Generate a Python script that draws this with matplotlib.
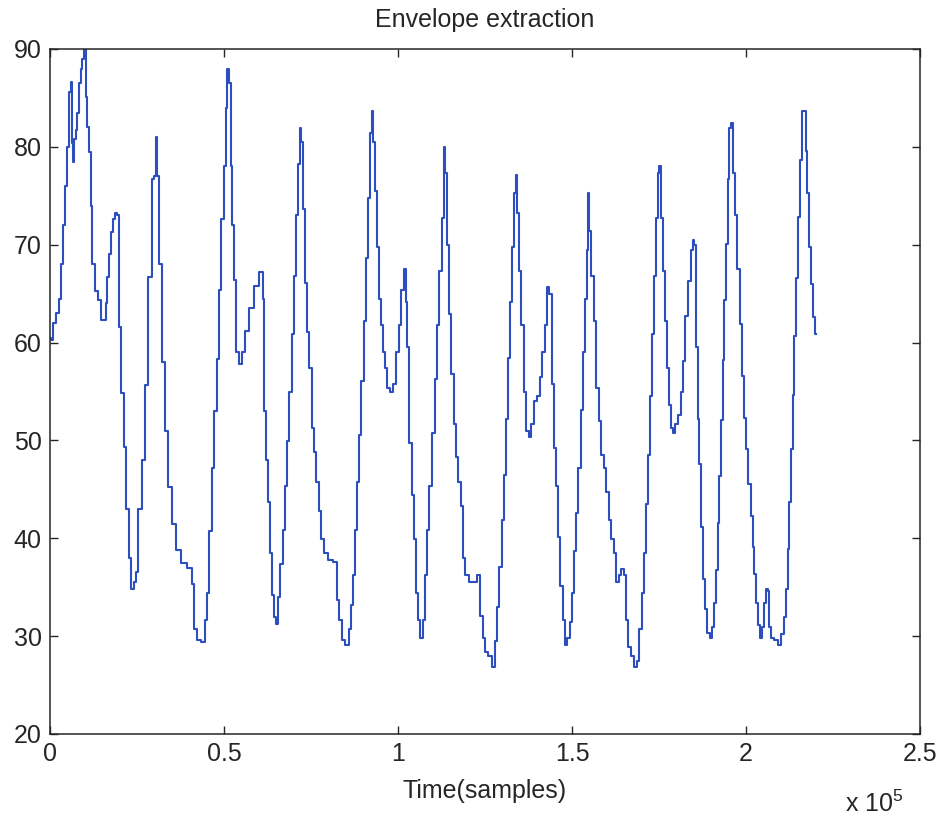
import numpy as np
import matplotlib
matplotlib.use('Agg')
import matplotlib.pyplot as plt
from matplotlib.ticker import FuncFormatter

# Envelope (time in thousands of samples)
time_k = [
    0.00, 0.57, 1.44, 2.30, 2.87, 3.45, 4.02, 4.80, 5.26, 5.75, 6.24, 6.41,
    6.90, 7.18, 7.67, 8.13, 8.62, 9.11, 9.57, 10.06, 10.55, 11.01, 11.49,
    11.98, 12.44, 13.42, 14.37, 14.86, 15.80, 16.29, 16.75, 17.24, 17.73,
    18.39, 18.97, 19.63, 20.12, 20.89, 21.55, 22.21, 22.99, 23.76, 24.28,
    24.91, 25.86, 26.81, 27.79, 28.74, 29.68, 30.17, 30.66, 31.12, 31.61,
    32.56, 33.53, 34.48, 35.43, 36.87, 38.31, 40.72, 41.18, 41.67, 42.62,
    44.05, 45.03, 45.49, 46.18, 46.93, 47.62, 48.36, 48.85, 49.63, 50.29,
    50.78, 51.24, 51.72, 52.21, 52.67, 53.16, 53.82, 54.60, 55.55, 56.52,
    57.96, 59.40, 60.83, 61.50, 61.78, 62.44, 63.02, 63.71, 64.17, 64.66,
    65.14, 65.89, 66.58, 67.24, 67.82, 68.48, 69.17, 69.74, 70.40, 70.89,
    71.55, 72.04, 72.41, 72.79, 73.56, 74.23, 74.91, 75.49, 76.15, 76.81,
    77.59, 78.36, 79.31, 80.46, 82.18, 82.56, 83.33, 84.28, 85.43, 86.21,
    86.70, 87.36, 87.93, 88.59, 89.08, 89.86, 90.52, 91.18, 91.75, 92.24,
    92.73, 93.10, 93.68, 94.34, 94.83, 95.32, 95.98, 96.55, 97.21, 98.19,
    99.14, 99.80, 100.58, 101.35, 102.01, 102.50, 102.96, 103.65, 104.22,
    104.89, 105.55, 106.12, 106.81, 107.47, 108.05, 108.71, 109.40, 110.15,
    110.92, 111.58, 112.27, 112.85, 113.31, 113.79, 114.46, 114.94, 115.72,
    116.38, 117.04, 117.62, 118.31, 118.97, 119.74, 120.89, 122.13, 123.36,
    124.05, 124.71, 125.49, 126.44, 127.39, 128.25, 128.82, 129.51, 130.09,
    130.75, 131.41, 131.98, 132.67, 133.13, 133.62, 134.11, 134.57, 135.06,
    135.84, 136.50, 137.16, 137.93, 138.71, 139.37, 140.32, 141.01, 141.75,
    142.53, 143.19, 143.88, 144.46, 145.12, 145.78, 146.35, 147.04, 147.70,
    148.28, 148.94, 149.63, 150.20, 150.86, 151.53, 152.10, 152.79, 153.45,
    154.03, 154.40, 154.69, 155.17, 155.84, 156.61, 157.27, 158.05, 158.82,
    159.48, 160.15, 160.92, 161.70, 162.36, 163.02, 163.80, 164.57, 165.23,
    165.72, 166.47, 167.44, 168.39, 169.05, 169.74, 170.32, 170.98, 171.64,
    172.21, 172.90, 173.36, 173.85, 174.34, 174.80, 175.29, 175.78, 176.24,
    177.01, 177.68, 178.16, 178.65, 179.31, 180.09, 180.84, 181.53, 182.19,
    182.96, 183.71, 184.40, 184.86, 185.35, 185.84, 186.30, 186.78, 187.27,
    187.73, 188.51, 189.17, 189.86, 190.43, 191.09, 191.58, 192.04, 192.53,
    193.02, 193.48, 193.97, 194.46, 194.92, 195.41, 195.89, 196.35, 197.13,
    197.79, 198.48, 199.06, 199.72, 200.20, 200.95, 201.64, 202.10, 202.59,
    203.08, 203.54, 204.22, 204.97, 205.46, 205.95, 206.41, 206.90, 207.68,
    208.62, 209.77, 210.55, 211.21, 211.70, 212.16, 212.65, 213.13, 213.60,
    214.08, 214.57, 215.15, 215.72, 216.30, 216.96, 217.24, 217.91, 218.39,
    218.97, 219.54, 220.03,
]
envelope = [
    60.5, 60.3, 62.0, 63.0, 64.5, 68.0, 72.0, 76.0, 80.0, 85.6, 86.6, 80.4,
    78.5, 80.8, 81.7, 83.5, 86.5, 88.0, 89.0, 90.0, 85.1, 82.0, 79.5,
    74.0, 68.0, 65.3, 64.4, 62.3, 62.3, 64.0, 66.7, 69.0, 71.3,
    72.6, 73.2, 73.0, 61.6, 54.8, 49.3, 43.0, 38.0, 34.8, 35.5,
    36.6, 43.0, 48.0, 55.7, 66.7, 76.7, 77.0, 81.0, 77.0, 68.0,
    58.0, 51.0, 45.2, 41.5, 38.8, 37.5, 37.0, 35.3, 30.7, 29.6,
    29.4, 31.6, 34.4, 40.7, 47.2, 53.0, 58.3, 65.4, 72.6, 78.0,
    84.0, 88.0, 86.5, 78.0, 72.0, 66.4, 59.0, 57.8, 59.0, 61.2,
    63.5, 65.8, 67.2, 64.5, 53.0, 48.0, 43.7, 38.5, 34.2, 32.0,
    31.2, 34.0, 37.4, 40.8, 45.3, 49.9, 54.9, 60.9, 66.8, 73.0,
    78.2, 81.9, 80.5, 73.6, 66.1, 61.1, 57.4, 51.3, 48.8, 45.8,
    42.8, 39.9, 38.5, 37.8, 37.6, 33.7, 31.6, 29.6, 29.1, 30.7,
    33.2, 36.2, 40.8, 45.8, 50.6, 56.1, 62.2, 68.6, 74.8, 81.4,
    83.7, 80.5, 75.5, 69.8, 64.5, 61.8, 59.0, 57.4, 55.4, 54.9,
    55.8, 59.0, 61.8, 65.4, 67.5, 64.1, 59.5, 49.7, 44.4,
    39.9, 34.4, 31.6, 29.8, 31.6, 36.2, 40.8, 45.3, 50.8,
    56.3, 61.8, 67.3, 72.7, 80.0, 77.3, 70.0, 62.9, 56.8,
    51.7, 48.3, 45.8, 43.3, 38.0, 36.2, 35.5, 35.5, 36.2,
    32.1, 29.8, 28.4, 28.0, 26.8, 29.5, 33.0, 37.1, 41.9,
    46.5, 52.2, 58.4, 64.1, 69.8, 75.3, 77.1, 73.2, 67.3,
    61.8, 54.9, 51.0, 50.4, 51.7, 54.0, 54.5, 56.5, 59.0,
    61.8, 65.7, 65.0, 55.8, 49.2, 45.3, 40.1, 35.1, 31.6,
    29.1, 29.8, 31.4, 34.4, 38.7, 42.6, 47.2, 53.1, 59.0,
    64.5, 69.5, 75.3, 71.4, 66.8, 62.2, 55.4, 52.0, 48.5,
    47.2, 44.7, 41.9, 39.9, 38.5, 35.5, 36.2, 36.9, 36.2,
    31.6, 28.9, 28.0, 26.8, 27.5, 30.7, 34.4, 38.5, 43.5,
    48.5, 54.5, 60.9, 66.8, 72.7, 77.3, 78.0, 72.7, 67.3,
    62.2, 57.4, 53.6, 51.3, 50.8, 51.7, 52.6, 54.9, 58.1,
    62.7, 66.3, 69.5, 70.5, 70.0, 59.5, 52.2, 47.6, 41.2,
    35.8, 32.8, 30.3, 29.8, 30.9, 33.4, 36.8, 41.6, 46.4,
    52.1, 58.2, 64.4, 70.1, 76.7, 81.9, 82.4, 77.3, 73.0,
    67.5, 61.9, 56.6, 52.3, 49.1, 45.5, 42.3, 39.1, 36.4,
    33.4, 31.1, 29.8, 30.9, 33.4, 34.8, 34.6, 30.9, 29.8,
    29.6, 29.1, 30.2, 32.0, 34.8, 38.9, 43.7, 49.1, 54.6,
    60.7, 66.6, 72.8, 78.7, 83.7, 83.7, 79.6, 75.3, 69.8,
    66.0, 62.6, 60.9,
]

x_ticks = [0, 0.5, 1, 1.5, 2, 2.5]
y_ticks = [20, 30, 40, 50, 60, 70, 80, 90]

plt.rcParams['font.family'] = ['Liberation Sans', 'DejaVu Sans']
plt.rcParams['mathtext.fontset'] = 'custom'
plt.rcParams['mathtext.rm'] = 'Liberation Sans'
plt.rcParams['font.size'] = 18

samples = np.array(time_k) * 1000

fig = plt.figure(figsize=(9.41, 8.18), dpi=100)
ax = fig.add_axes([0.0531, 0.1027, 0.9246, 0.8374])

ax.plot(samples, envelope, color='#2d4fbd', linewidth=1.5, drawstyle='steps-mid')

ax.set_xlim(0, 2.5e5)
ax.set_ylim(20, 90)
ax.set_xticks([t * 1e5 for t in x_ticks])
ax.set_yticks(y_ticks)
ax.xaxis.set_major_formatter(FuncFormatter(lambda v, p: '%g' % (v / 1e5)))

ax.tick_params(direction='in', length=6, width=1, top=True, right=True,
               labelsize=18, colors='#262626')
ax.tick_params(axis='x', pad=6)
ax.tick_params(axis='y', pad=6)
for s in ax.spines.values():
    s.set_linewidth(1.1)
    s.set_color('#262626')

ax.set_title('Envelope extraction', fontsize=18, pad=16, color='#262626')
ax.set_xlabel('Time(samples)', fontsize=18, labelpad=9, color='#262626')
fig.text(903 / 941, 1 - 812 / 818, r'x 10$^{\mathrm{5}}$', ha='right', va='baseline',
         fontsize=18, color='#262626')

fig.savefig('out.png', dpi=100)
